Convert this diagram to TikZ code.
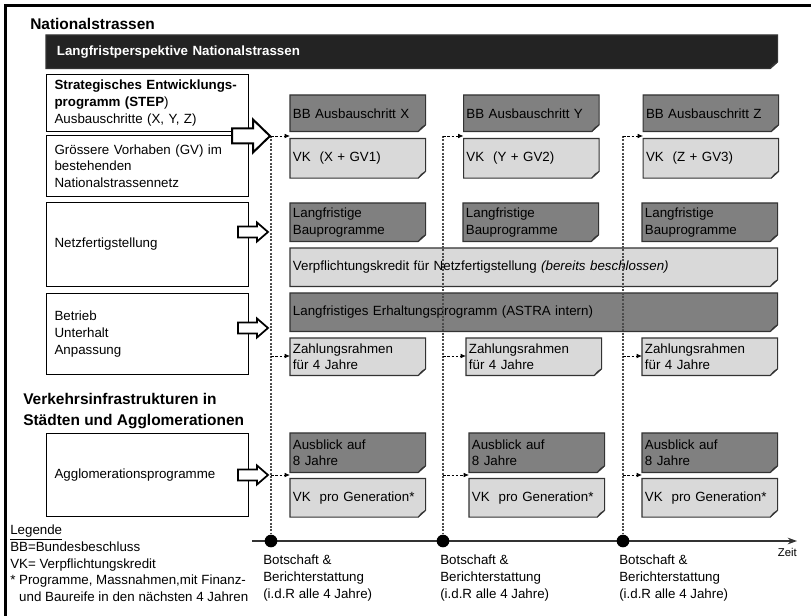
\documentclass[tikz,border=0pt]{standalone}
\usepackage{fontspec}
\setmainfont{Liberation Sans}
\usetikzlibrary{arrows.meta, positioning, backgrounds}

\definecolor{barfill}{HTML}{232323}
\definecolor{darkfill}{HTML}{808080}
\definecolor{lightfill}{HTML}{D9D9D9}
\definecolor{notedraw}{HTML}{333333}

% sheet with folded lower right corner, drawn behind the node text
\newcommand{\dogear}[2]{%
  \filldraw[fill=#2, draw=notedraw, line width=0.8pt] (#1.north west) -- (#1.north east) -- ([yshift=5pt]#1.south east) -- ([xshift=-5.5pt]#1.south east) -- (#1.south west) -- cycle;
  \filldraw[fill=#2!45!white, draw=notedraw, line width=0.6pt] ([yshift=5pt]#1.south east) -- ([xshift=-3pt,yshift=3pt]#1.south east) -- ([xshift=-5.5pt]#1.south east) -- cycle;}

\begin{document}
\begin{tikzpicture}[
    x=0.75pt, y=-0.75pt,
    every node/.style={font=\fontsize{10}{12.5}\selectfont},
    heading/.style={anchor=north west, inner sep=0pt, align=left, font=\fontsize{11.6}{15.5}\selectfont\bfseries},
    leftbox/.style={rectangle, draw, line width=0.8pt, anchor=north west, align=left, inner xsep=6pt, text width=139.5pt},
    note/.style={rectangle, anchor=north west, align=left, inner xsep=2pt, inner ysep=0pt, text width=97.25pt, minimum height=28.5pt},
    widenote/.style={note, text width=361.25pt},
    plain/.style={anchor=north west, inner sep=0pt, align=left},
    fatarrow/.style={draw, fill=white, line width=1.3pt, line join=miter},
    vline/.style={gray!60!black, line width=0.8pt, dash pattern=on 1.5pt off 1pt},
    dasharrow/.style={line width=0.6pt, dash pattern=on 2pt off 1.2pt, -{Latex[length=4pt,width=3.5pt]}},
    dot/.style={circle, fill, inner sep=0pt, minimum size=9.5pt},
    timeline/.style={line width=1pt, black!80, -{Stealth[length=7pt,width=5pt]}},
    frame/.style={line width=2.4pt}
]
\useasboundingbox (0,0) rectangle (811,616);
\clip (0,0) rectangle (811,616);
\draw[frame] (5.5,5.5) rectangle (830,640);

% Headings
\node[heading] (natstr) at (30,18) {Nationalstrassen};
\node[heading] (agglohead) at (23,393) {Verkehrsinfrastrukturen in\\Städten und Agglomerationen};
\node[note, text width=532.25pt, inner xsep=8pt, minimum height=24.75pt, text=white, font=\fontsize{10}{12.5}\selectfont\bfseries] (bar) at (46,35) {Langfristperspektive Nationalstrassen};

% Left column
\node[leftbox, minimum height=42.75pt] (step) at (46,74) {\textbf{Strategisches~Entwicklungs-}\\\textbf{programm (STEP})\\Ausbauschritte (X, Y, Z)};
\node[leftbox, minimum height=45.75pt] (gv) at (46,135) {Grössere Vorhaben (GV) im\\bestehenden\\Nationalstrassennetz};
\node[leftbox, minimum height=63pt] (netz) at (46,202) {Netzfertigstellung};
\node[leftbox, minimum height=60.75pt] (betrieb) at (46,293) {Betrieb\\Unterhalt\\Anpassung};
\node[leftbox, minimum height=62.25pt] (agglo) at (46,433) {Agglomerationsprogramme};

% Ausbauschritte
\node[note, minimum height=27pt] (bbx) at (290,95) {BB Ausbauschritt X};
\node[note, minimum height=27pt, right=28.5pt of bbx] (bby) {BB Ausbauschritt Y};
\node[note, minimum height=27pt, right=33pt of bby] (bbz) {BB Ausbauschritt Z};
\node[note, minimum height=29.25pt, below=5.25pt of bbx] (vkx) {VK\ \ (X + GV1)};
\node[note, minimum height=29.25pt, below=5.25pt of bby] (vky) {VK\ \ (Y + GV2)};
\node[note, minimum height=29.25pt, below=5.25pt of bbz] (vkz) {VK\ \ (Z + GV3)};

% Netzfertigstellung and Erhaltung
\node[note] (bau1) at (290,203) {Langfristige\\Bauprogramme};
\node[note] (bau2) at (463,203) {Langfristige\\Bauprogramme};
\node[note] (bau3) at (642,203) {Langfristige\\Bauprogramme};
\node[widenote] (netzvk) at (290,248) {Verpflichtungskredit für Netzfertigstellung \textit{(bereits beschlossen)}};
\node[widenote] (erhalt) at (290,293) {Langfristiges Erhaltungsprogramm (ASTRA intern)};
\node[note, minimum height=27.75pt] (zr1) at (290,338) {Zahlungsrahmen\\für 4 Jahre};
\node[note, minimum height=27.75pt] (zr2) at (466,338) {Zahlungsrahmen\\für 4 Jahre};
\node[note, minimum height=27.75pt] (zr3) at (642,338) {Zahlungsrahmen\\für 4 Jahre};

% Agglomerationen
\node[note, minimum height=29.25pt] (aus1) at (290,433) {Ausblick auf\\8 Jahre};
\node[note, minimum height=29.25pt] (aus2) at (469,433) {Ausblick auf\\8 Jahre};
\node[note, minimum height=29.25pt] (aus3) at (642,433) {Ausblick auf\\8 Jahre};
\node[note, below=4.5pt of aus1] (vkp1) {VK\ \ pro Generation*};
\node[note, below=4.5pt of aus2] (vkp2) {VK\ \ pro Generation*};
\node[note, below=4.5pt of aus3] (vkp3) {VK\ \ pro Generation*};

\begin{pgfonlayer}{background}
  \dogear{bar}{barfill}
  \foreach \n in {bbx,bby,bbz,bau1,bau2,bau3,erhalt,aus1,aus2,aus3} {\dogear{\n}{darkfill}}
  \foreach \n in {vkx,vky,vkz,netzvk,zr1,zr2,zr3,vkp1,vkp2,vkp3} {\dogear{\n}{lightfill}}
\end{pgfonlayer}

% Time axis
\coordinate (tstart) at (252,541);
\coordinate (tend) at (797,541);
\draw[timeline] (tstart) -- (tend);
\node[dot] (d1) at (271,541) {};
\node[dot] (d2) at (443,541) {};
\node[dot] (d3) at (623,541) {};
\node[plain, anchor=north east, font=\fontsize{8.5}{10}\selectfont] (zeit) at (797,548) {Zeit};

\node[plain] (bs1) at (263,555) {Botschaft \&\\Berichterstattung\\(i.d.R alle 4 Jahre)};
\node[plain] (bs2) at (440,555) {Botschaft \&\\Berichterstattung\\(i.d.R alle 4 Jahre)};
\node[plain] (bs3) at (619,555) {Botschaft \&\\Berichterstattung\\(i.d.R alle 4 Jahre)};

% Dotted timelines and arrows to the sheets
\coordinate (rowbb) at (0,136);
\coordinate (rowzr) at (0,356);
\coordinate (rowag) at (0,475);
\foreach \d in {d1,d2,d3} \draw[vline] (\d |- rowbb) -- (\d);
\foreach \d/\c in {d1/x, d2/y, d3/z} \draw[dasharrow] (\d |- rowbb) -- (bb\c.west |- rowbb);
\foreach \d/\n in {d1/1, d2/2, d3/3} {
  \draw[dasharrow] (\d |- rowzr) -- (zr\n.west |- rowzr);
  \draw[dasharrow] (\d |- rowag) -- (aus\n.west |- rowag);
}

% Hollow arrows
\coordinate (tipstep) at (270,136);
\draw[fatarrow, line width=1.5pt] (tipstep) -- ++(-17,-16.5) -- ++(0,9) -- ++(-21,0) -- ++(0,15) -- ++(21,0) -- ++(0,9) -- cycle;
\foreach \yy/\nm in {232/netz, 328/betrieb, 475/agglo} {
  \coordinate (tip\nm) at (268,\yy);
  \draw[fatarrow] (tip\nm) -- ++(-11,-9.5) -- ++(0,4) -- ++(-19,0) -- ++(0,11) -- ++(19,0) -- ++(0,4) -- cycle;
}

% Legend
\node[plain] (legende) at (10,525) {\underline{Legende}\\BB=Bundesbeschluss\\VK= Verpflichtungskredit\\* Programme, Massnahmen,mit Finanz-\\\hspace*{6.7pt}und Baureife in den nächsten 4 Jahren};

\end{tikzpicture}
\end{document}
